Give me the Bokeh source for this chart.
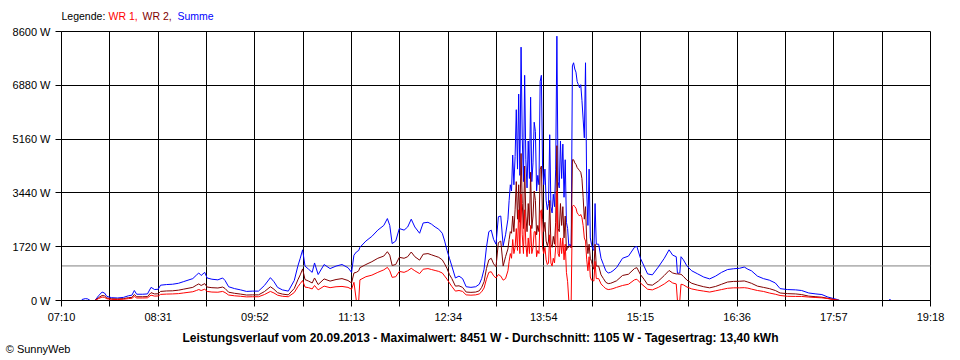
from bokeh.plotting import figure
from bokeh.layouts import column
from bokeh.models import Range1d, FixedTicker, Span, ColumnDataSource
from bokeh.core.properties import value
from bokeh.embed import file_html
from bokeh.resources import INLINE

NA = float("nan")

# ---------------- data ----------------
times = [
    "07:27", "07:30", "07:32", "07:34", "07:38", "07:41", "07:44", "07:46", "07:48", "07:52",
    "07:57", "08:02", "08:06", "08:09", "08:11", "08:13", "08:18", "08:22", "08:25", "08:28",
    "08:31", "08:33", "08:38", "08:43", "08:48", "08:52", "08:56", "09:00", "09:03", "09:05",
    "09:07", "09:10", "09:12", "09:16", "09:21", "09:25", "09:27", "09:30", "09:35", "09:40",
    "09:45", "09:50", "09:55", "10:00", "10:05", "10:08", "10:11", "10:15", "10:20", "10:25",
    "10:28", "10:30", "10:32", "10:34", "10:37", "10:40", "10:42", "10:45", "10:50", "10:55",
    "11:00", "11:05", "11:10", "11:13", "11:15", "11:17", "11:19", "11:20", "11:25", "11:30",
    "11:35", "11:40", "11:43", "11:45", "11:47", "11:50", "11:53", "11:57", "12:00", "12:03",
    "12:06", "12:10", "12:13", "12:17", "12:20", "12:23", "12:26", "12:29", "12:31", "12:33",
    "12:35", "12:37", "12:40", "12:43", "12:46", "12:49", "12:53", "12:57", "13:00", "13:02",
    "13:04", "13:06", "13:08", "13:10", "13:12", "13:14", "13:16", "13:18", "13:20", "13:22",
    "13:24", "13:25", "13:26", "13:27", "13:28", "13:29", "13:30", "13:31", "13:32", "13:33",
    "13:34", "13:35", "13:36", "13:37", "13:38", "13:39", "13:40", "13:41", "13:42", "13:43",
    "13:44", "13:45", "13:46", "13:47", "13:48", "13:49", "13:50", "13:51", "13:52", "13:53",
    "13:54", "13:55", "13:56", "13:57", "13:58", "13:59", "14:00", "14:01", "14:02", "14:03",
    "14:04", "14:05", "14:06", "14:07", "14:08", "14:09", "14:10", "14:11", "14:12", "14:13",
    "14:14", "14:15", "14:16", "14:17", "14:18", "14:19", "14:20", "14:21", "14:22", "14:23",
    "14:24", "14:25", "14:26", "14:27", "14:28", "14:29", "14:30", "14:31", "14:32", "14:33",
    "14:34", "14:35", "14:36", "14:37", "14:38", "14:40", "14:42", "14:44", "14:46", "14:48",
    "14:50", "14:52", "14:55", "15:00", "15:05", "15:10", "15:12", "15:15", "15:18", "15:21",
    "15:25", "15:30", "15:35", "15:39", "15:42", "15:45", "15:46", "15:48", "15:49", "15:51",
    "15:54", "15:58", "16:03", "16:08", "16:13", "16:18", "16:23", "16:28", "16:33", "16:38",
    "16:42", "16:45", "16:48", "16:53", "16:58", "17:03", "17:08", "17:12", "17:18", "17:25",
    "17:30", "17:36", "17:42", "17:47", "17:52", "17:57", "18:00", "18:02", "18:03", "18:43",
    "18:44", "18:45",
]

summe = [
    30, 60, 50, 0, 0, 150, 270, 240, 130, 90,
    80, 100, 150, 170, 320, 200, 200, 210, 420, 350,
    360, 490, 510, 520, 550, 600, 650, 700, 810, 880,
    800, 900, 720, 680, 660, 720, 640, 440, 380, 340,
    290, 300, 300, 480, 730, 600, 420, 340, 300, 640,
    1100, 1350, 1620, 1100, 1000, 900, 1200, 830, 1150, 1020,
    1100, 1150, 1050, 900, 1450, 1550, 1600, 1700, 1900, 2050,
    2250, 2400, 2620, 2400, 1820, 1900, 2300, 2250, 2350, 2600,
    2350, 2150, 2480, 2500, 2440, 2350, 2280, 2150, 1900, 1600,
    1350, 1100, 720, 780, 700, 440, 420, 440, 520, 700,
    1000, 1700, 2200, 2250, 1950, 1800, 2680, 2700, 1750, 2100,
    2600, 3200, 3700, 3500, 4650, 3700, 4600, 6100, 4200, 6600,
    4000, 8100, 5200, 3800, 7200, 4500, 3600, 5100, 3900, 6500,
    3800, 4400, 5700, 5400, 3500, 4000, 3700, 7000, 7200, 4300,
    3700, 4200, 3200, 2900, 3100, 5300, 3000, 2800, 3400, 3000,
    4200, 8451, 3800, 3600, 5100, 3900, 5000, 3300, 4500, 2500,
    2300, 1750, 1800, 1700, 7500, 7600, 7400, 7300, 7000, 6900,
    6800, 6900, 6400, 5800, 5200, 7600, 3500, 2400, 4200, 2000,
    1800, 1650, 1600, 3100, 1800, 1800, 1350, 1150, 950, 880,
    900, 950, 1050, 1350, 1420, 1700, 1730, 1350, 1100, 850,
    820, 1070, 1350, 1620, 1450, 1400, 870, 880, 1400, 1300,
    1100, 950, 850, 750, 690, 780, 900, 990, 1015, 1030,
    1070, 1000, 950, 780, 700, 650, 560, 380, 350, 340,
    320, 240, 210, 190, 110, 60, 30, 0, NA, 0,
    40, 0,
]

wr2 = [
    NA, NA, NA, NA, 0, 90, 160, 150, 80, 55,
    50, 60, 90, 100, 190, 120, 120, 125, 250, 210,
    215, 290, 305, 310, 330, 360, 390, 420, 490, 530,
    480, 540, 430, 410, 400, 430, 385, 265, 230, 205,
    175, 180, 180, 285, 440, 360, 250, 205, 180, 385,
    660, 820, 1010, 670, 620, 560, 720, 510, 690, 620,
    670, 700, 640, 560, 880, 900, 950, 1050, 1150, 1240,
    1350, 1420, 1560, 1450, 1120, 1150, 1380, 1350, 1400, 1550,
    1400, 1290, 1480, 1500, 1460, 1420, 1380, 1300, 1170, 1020,
    830, 700, 460, 470, 420, 270, 260, 270, 310, 420,
    600, 1020, 1300, 1350, 1170, 1080, 1850, 1900, 1100, 1400,
    1650, 1950, 2200, 2150, 2700, 2200, 2900, 3800, 2600, 3700,
    2500, 4700, 3100, 2300, 4300, 2700, 2200, 3100, 2400, 4100,
    2300, 2700, 3500, 3200, 2100, 2400, 2200, 4200, 4300, 2600,
    2200, 2500, 1900, 1750, 1900, 3200, 1800, 1700, 2050, 1800,
    2500, 4950, 2300, 2200, 3100, 2400, 3000, 2000, 2700, 1600,
    1700, 1700, 1750, 1680, 4500, 4500, 4400, 4350, 4250, 4200,
    4150, 4100, 3900, 3300, 2600, 3000, 1900, 1500, 1800, 1350,
    1250, 1100, 1000, 1800, 1100, 1100, 820, 700, 580, 540,
    550, 580, 630, 800, 840, 1020, 1050, 830, 680, 510,
    490, 620, 800, 960, 880, 850, 850, 840, 840, 770,
    650, 550, 490, 440, 405, 450, 520, 590, 610, 615,
    625, 590, 550, 460, 420, 380, 320, 240, 220, 210,
    190, 140, 120, 105, 70, 35, 15, 0, NA, NA,
    NA, NA,
]

wr1 = [
    NA, NA, NA, NA, 0, 60, 110, 100, 55, 35,
    30, 40, 60, 70, 130, 80, 80, 85, 170, 140,
    145, 195, 205, 210, 220, 240, 260, 280, 320, 350,
    320, 360, 290, 270, 265, 290, 255, 175, 150, 135,
    115, 120, 120, 190, 290, 240, 170, 135, 120, 255,
    440, 540, 640, 430, 410, 370, 480, 340, 460, 410,
    440, 450, 420, 360, 580, 0, 0, 660, 760, 810,
    900, 980, 1060, 950, 740, 760, 930, 900, 950, 1030,
    950, 860, 1000, 1020, 990, 960, 930, 880, 780, 680,
    560, 450, 300, 320, 290, 180, 170, 180, 210, 280,
    400, 680, 900, 920, 790, 720, 830, 780, 650, 700,
    950, 1250, 1500, 1350, 1950, 1500, 1700, 2300, 1600, 2900,
    1500, 3400, 2100, 1500, 2900, 1800, 1400, 2000, 1500, 2400,
    1500, 1700, 2200, 2200, 1400, 1600, 1500, 2800, 2900, 1700,
    1500, 1700, 1300, 1150, 1200, 2100, 1200, 1100, 1350, 1200,
    1700, 3500, 1500, 1400, 2000, 1500, 2000, 1300, 1800, 900,
    600, 0, 0, 0, 3000, 3050, 3000, 2950, 2800, 2750,
    2700, 2750, 2650, 2400, 2000, 1900, 1300, 950, 1400, 750,
    650, 650, 620, 1250, 700, 700, 530, 450, 380, 350,
    360, 380, 420, 480, 520, 660, 680, 560, 460, 360,
    340, 420, 530, 640, 560, 530, 0, 0, 520, 500,
    430, 370, 330, 300, 270, 310, 350, 390, 405, 405,
    410, 395, 365, 320, 290, 240, 200, 160, 135, 130,
    130, 110, 95, 85, 60, 25, 10, 0, NA, NA,
    NA, NA,
]

durchschnitt = 1105
x_tick_labels = ["07:10", "08:31", "09:52", "11:13", "12:34", "13:54", "15:15", "16:36", "17:57", "19:18"]
y_ticks = [0, 1720, 3440, 5160, 6880, 8600]
y_tick_labels = ["0 W", "1720 W", "3440 W", "5160 W", "6880 W", "8600 W"]

legend_texts = ["Legende:", "WR 1,", "WR 2,", "Summe"]
legend_colors = ["#000000", "#FF0000", "#800000", "#0000FF"]
title_text = ("Leistungsverlauf vom 20.09.2013 - Maximalwert: 8451 W - Durchschnitt: 1105 W"
              " - Tagesertrag: 13,40 kWh")
credit_text = "\u00a9 SunnyWeb"

assert len(times) == len(summe) == len(wr1) == len(wr2)


def hm(s):
    h, m = s.split(":")
    return int(h) * 60 + int(m)


t_min = [hm(s) for s in times]
x_ticks = [hm(s) for s in x_tick_labels]
x_minor = [(a + b) / 2 for a, b in zip(x_ticks[:-1], x_ticks[1:])]

src = ColumnDataSource(dict(t=t_min, summe=summe, wr1=wr1, wr2=wr2))

FONT = "Liberation Sans"
W = 952
BL, BR = 61, 22          # left / right borders: frame spans page x 61..930

# ---------------- main chart ----------------
p = figure(width=W, height=302, output_backend="svg", toolbar_location=None,
           x_range=Range1d(x_ticks[0], x_ticks[-1]), y_range=Range1d(y_ticks[0], y_ticks[-1]),
           min_border_left=BL, min_border_right=BR, min_border_top=7, min_border_bottom=26)
p.background_fill_color = "white"
p.border_fill_color = "white"
p.outline_line_color = "black"
p.outline_line_width = 1

p.xaxis.ticker = FixedTicker(ticks=x_ticks, minor_ticks=x_minor)
p.xaxis.major_label_overrides = {v: lab for v, lab in zip(x_ticks, x_tick_labels)}
p.yaxis.ticker = FixedTicker(ticks=y_ticks)
p.yaxis.major_label_overrides = {v: lab for v, lab in zip(y_ticks, y_tick_labels)}
for ax in (p.xaxis[0], p.yaxis[0]):
    ax.axis_line_color = "black"
    ax.major_tick_line_color = "black"
    ax.minor_tick_line_color = "black"
    ax.major_tick_out = 6
    ax.major_tick_in = 0
    ax.minor_tick_out = 6
    ax.minor_tick_in = 0
    ax.major_label_text_font = FONT
    ax.major_label_text_font_size = "11px"
    ax.major_label_text_color = "black"
p.xaxis.major_label_standoff = 4
p.yaxis.major_label_standoff = 5
p.yaxis.minor_tick_line_color = None

p.xgrid.grid_line_color = "black"
p.xgrid.minor_grid_line_color = "black"
p.ygrid.grid_line_color = "black"

p.add_layout(Span(location=durchschnitt, dimension="width", line_color="#808080",
                  line_width=1, level="underlay"))

p.line("t", "summe", source=src, line_color="#0000FF", line_width=1)
p.line("t", "wr2", source=src, line_color="#800000", line_width=1)
p.line("t", "wr1", source=src, line_color="#FF0000", line_width=1)


# ---------------- text strips (x = page pixel, y = pixel from strip top) ----------------
def strip(height, with_yaxis=False):
    f = figure(width=W, height=height, output_backend="svg", toolbar_location=None,
               x_range=Range1d(BL, W - BR), y_range=Range1d(height, 0),
               x_axis_location=None, y_axis_location="left" if with_yaxis else None,
               min_border_left=BL, min_border_right=BR, min_border_top=0, min_border_bottom=0)
    f.grid.visible = False
    f.outline_line_color = None
    f.background_fill_color = "white"
    f.border_fill_color = "white"
    return f


top = strip(24)
top.text(x=[61, 108, 142, 177], y=[15, 15, 15, 15], text=legend_texts, text_color=legend_colors,
         text_font=value(FONT), text_font_size="10.5px", text_baseline="middle", text_align="left")

bottom = strip(30, with_yaxis=True)
bottom.text(x=[480], y=[11], text=[title_text], text_color="black", text_font=value(FONT),
            text_font_size="12px", text_font_style="bold", text_baseline="middle", text_align="center")
# the credit sits left of the frame: shown as the single label of the strip's hidden y axis
ya = bottom.yaxis[0]
ya.ticker = FixedTicker(ticks=[22])
ya.major_label_overrides = {22: credit_text}
ya.axis_line_color = None
ya.major_tick_line_color = None
ya.minor_tick_line_color = None
ya.major_tick_out = 0
ya.major_tick_in = 0
ya.major_label_standoff = -9
ya.major_label_text_font = FONT
ya.major_label_text_font_size = "11px"
ya.major_label_text_color = "black"

layout = column(top, p, bottom, spacing=0)

open("out.html", "w").write(file_html(layout, INLINE))
